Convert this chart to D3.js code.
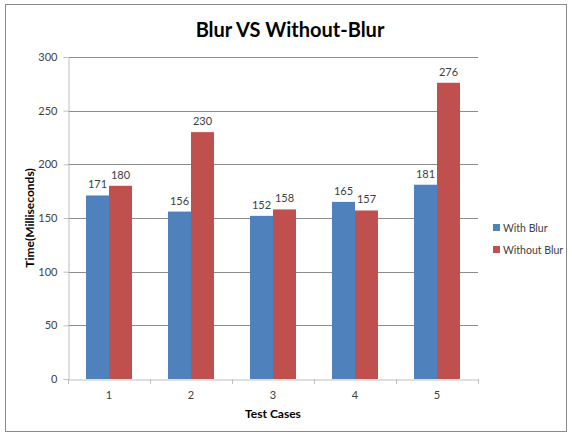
<!DOCTYPE html>
<html>
<head>
<meta charset="utf-8">
<script src="https://cdn.jsdelivr.net/npm/d3@7"></script>
<style>
  html, body { margin: 0; padding: 0; background: #fff; }
  svg { display: block; font-family: Lato, "Open Sans", sans-serif; }
</style>
</head>
<body>
<svg id="chart" width="572" height="436"></svg>
<script>
// Timing results per test case
const testCases = ["1", "2", "3", "4", "5"];
const seriesNames = ["With Blur", "Without Blur"];
const withBlur = [171, 156, 152, 165, 181];
const withoutBlur = [180, 230, 158, 157, 276];
const yTicks = [0, 50, 100, 150, 200, 250, 300];
const colors = ["#4F81BD", "#C0504D"];

const rows = testCases.map((c, i) => ({ cat: c, values: [withBlur[i], withoutBlur[i]] }));

const svg = d3.select("#chart");

// Outer frame
svg.append("rect")
  .attr("x", 5.5).attr("y", 4.5)
  .attr("width", 561).attr("height", 427)
  .attr("fill", "#fff").attr("stroke", "#8a8a8a").attr("stroke-width", 1);

const plot = { left: 68, right: 478, top: 57, bottom: 379 };

const x = d3.scaleBand().domain(testCases).range([plot.left, plot.right]).paddingInner(0).paddingOuter(0);
const x1 = d3.scaleBand().domain([0, 1]).range([18, x.bandwidth() - 18]);
const y = d3.scaleLinear().domain([0, 300]).range([plot.bottom, plot.top]);

// Horizontal gridlines
svg.append("g")
  .selectAll("line")
  .data(yTicks.filter(t => t > 0))
  .join("line")
  .attr("x1", plot.left).attr("x2", plot.right)
  .attr("y1", d => Math.round(y(d)) + 0.5).attr("y2", d => Math.round(y(d)) + 0.5)
  .attr("stroke", "#8c8c8c").attr("stroke-width", 1);

// Bars
const groups = svg.append("g").selectAll("g")
  .data(rows).join("g")
  .attr("transform", d => `translate(${x(d.cat)},0)`);

groups.selectAll("rect")
  .data(d => d.values.map((v, k) => ({ v, k })))
  .join("rect")
  .attr("x", d => x1(d.k))
  .attr("width", x1.bandwidth())
  .attr("y", d => y(d.v))
  .attr("height", d => y(0) - y(d.v))
  .attr("fill", d => colors[d.k]);

// Value labels
groups.selectAll("text")
  .data(d => d.values.map((v, k) => ({ v, k })))
  .join("text")
  .attr("x", d => x1(d.k) + x1.bandwidth() / 2)
  .attr("y", d => y(d.v) - 7)
  .attr("text-anchor", "middle")
  .attr("font-size", 11)
  .attr("fill", "#404040")
  .text(d => d.v);

// Y axis
const yAxis = svg.append("g")
  .attr("transform", `translate(${plot.left + 0.5},0)`)
  .call(d3.axisLeft(y).tickValues(yTicks).tickSize(5).tickPadding(6));
yAxis.select(".domain").attr("stroke", "#bfbfbf");
yAxis.selectAll(".tick line").attr("stroke", "#bfbfbf");
yAxis.selectAll(".tick text").attr("font-size", 11).attr("fill", "#404040").attr("font-family", "Lato, 'Open Sans', sans-serif");

// X axis
const xAxis = svg.append("g")
  .attr("transform", `translate(0,${plot.bottom + 0.5})`)
  .call(d3.axisBottom(x).tickSize(0).tickPadding(12));
xAxis.select(".domain").attr("stroke", "#bfbfbf");
xAxis.selectAll(".tick text").attr("font-size", 11).attr("fill", "#404040").attr("font-family", "Lato, 'Open Sans', sans-serif");

// Category separator ticks
svg.append("g").selectAll("line")
  .data(d3.range(testCases.length + 1))
  .join("line")
  .attr("x1", i => Math.round(plot.left + i * x.bandwidth()) + 0.5)
  .attr("x2", i => Math.round(plot.left + i * x.bandwidth()) + 0.5)
  .attr("y1", plot.bottom).attr("y2", plot.bottom + 5)
  .attr("stroke", "#bfbfbf");

// Titles
svg.append("text")
  .attr("x", 290).attr("y", 37)
  .attr("text-anchor", "middle")
  .attr("font-size", 20).attr("font-weight", "bold").attr("fill", "#000")
  .text("Blur VS Without-Blur");

svg.append("text")
  .attr("x", (plot.left + plot.right) / 2).attr("y", 418)
  .attr("text-anchor", "middle")
  .attr("font-size", 12).attr("font-weight", "bold").attr("fill", "#000")
  .text("Test Cases");

svg.append("text")
  .attr("transform", `translate(34,${(plot.top + plot.bottom) / 2}) rotate(-90)`)
  .attr("text-anchor", "middle")
  .attr("font-size", 12).attr("font-weight", "bold").attr("fill", "#000")
  .text("Time(Milliseconds)");

// Legend
const legend = svg.append("g").attr("transform", "translate(493,224)");
const items = legend.selectAll("g").data(seriesNames).join("g")
  .attr("transform", (d, i) => `translate(0,${i * 22})`);
items.append("rect").attr("width", 7).attr("height", 7).attr("fill", (d, i) => colors[i]);
items.append("text").attr("x", 10).attr("y", 7.5)
  .attr("font-size", 10.5).attr("fill", "#404040")
  .text(d => d);
</script>
</body>
</html>
